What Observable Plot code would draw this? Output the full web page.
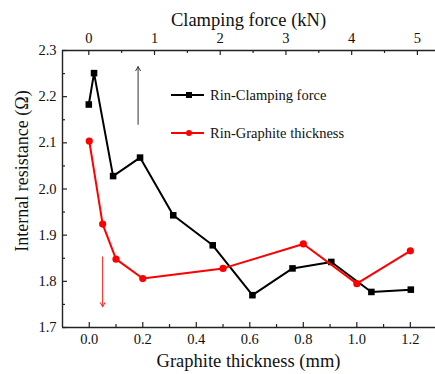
<!DOCTYPE html>
<html><head><meta charset="utf-8">
<script src="https://cdn.jsdelivr.net/npm/d3@7"></script>
<script src="https://cdn.jsdelivr.net/npm/@observablehq/plot@0.6"></script>
<style>
body{margin:0;background:#fff;overflow:hidden}
#wrap{position:relative;width:435px;height:374px;font-family:"Liberation Serif",serif}
#legend{position:absolute;left:0;top:0;pointer-events:none}
</style></head><body><div id="wrap"></div>
<script>
// Clamping force series (top axis, kN)
const clampForce = [0, 0.08, 0.37, 0.78, 1.285, 1.886, 2.49, 3.10, 3.69, 4.30, 4.90];
const rinClamp   = [2.183, 2.251, 2.028, 2.068, 1.943, 1.878, 1.770, 1.828, 1.842, 1.777, 1.782];
// Graphite thickness series (bottom axis, mm)
const graphiteThickness = [0, 0.05, 0.1, 0.2, 0.5, 0.8, 1.0, 1.2];
const rinGraphite       = [2.104, 1.924, 1.848, 1.806, 1.828, 1.881, 1.795, 1.866];
// Tick values
const yTicks = [1.7, 1.8, 1.9, 2.0, 2.1, 2.2, 2.3];
const yMinor = [1.75, 1.85, 1.95, 2.05, 2.15, 2.25];
const xTicks = [0, 0.2, 0.4, 0.6, 0.8, 1.0, 1.2];
const xMinor = [0.1, 0.3, 0.5, 0.7, 0.9, 1.1];
const topTicks = [0, 1, 2, 3, 4, 5];
const topMinor = [0.5, 1.5, 2.5, 3.5, 4.5];
// Annotation arrows
const upArrow = [{force: 0.75, from: 2.14, to: 2.265}];
const downArrow = [{thickness: 0.05, from: 1.853, to: 1.745}];
const legendItems = ["Rin-Clamping force", "Rin-Graphite thickness"];
const titles = {bottom: "Graphite thickness (mm)", top: "Clamping force (kN)", left: "Internal resistance (\u03A9)"};

// Axis ranges: bottom -0.1..1.3 mm shares the frame with top -0.4..5.3 kN
const xDomain = [-0.1, 1.294];
const kN2mm = d3.scaleLinear().domain([-0.4, 5.3]).range([-0.1, 1.3]);

const W = 435, H = 374, mL = 62, mR = 0, mT = 50, mB = 47;
const fw = W - mL - mR, fh = H - mT - mB;

const black = clampForce.map((f, i) => ({x: kN2mm(f), y: rinClamp[i]}));
const red = graphiteThickness.map((t, i) => ({x: t, y: rinGraphite[i]}));
const axisCol = "#222";

const chart = Plot.plot({
  width: W, height: H,
  marginLeft: mL, marginRight: mR, marginTop: mT, marginBottom: mB,
  style: {fontFamily: "Liberation Serif, serif", fontSize: "14.5px", color: "#111", background: "#fff"},
  x: {domain: xDomain, axis: null},
  y: {domain: [1.7, 2.3], axis: null},
  marks: [
    // axis lines
    Plot.ruleX([xDomain[0]], {stroke: axisCol, strokeWidth: 1.4}),
    Plot.ruleY([1.7], {stroke: axisCol, strokeWidth: 1.4}),
    Plot.ruleY([2.3], {stroke: axisCol, strokeWidth: 1.4}),
    // inward ticks
    Plot.ruleX(xTicks, {insetTop: fh - 5, stroke: axisCol, strokeWidth: 1.2}),
    Plot.ruleX(xMinor, {insetTop: fh - 3, stroke: axisCol, strokeWidth: 1.2}),
    Plot.ruleX(topTicks.map(kN2mm), {insetBottom: fh - 5, stroke: axisCol, strokeWidth: 1.2}),
    Plot.ruleX(topMinor.map(kN2mm), {insetBottom: fh - 3, stroke: axisCol, strokeWidth: 1.2}),
    Plot.ruleY(yTicks, {insetRight: fw - 5, stroke: axisCol, strokeWidth: 1.2}),
    Plot.ruleY(yMinor, {insetRight: fw - 3, stroke: axisCol, strokeWidth: 1.2}),
    // tick labels
    Plot.axisX({anchor: "bottom", ticks: xTicks, tickSize: 0, tickPadding: 6, tickFormat: ".1f", label: null}),
    Plot.axisX({anchor: "top", ticks: topTicks.map(kN2mm), tickSize: 0, tickPadding: 8,
      tickFormat: d => String(Math.round(kN2mm.invert(d))), label: null}),
    Plot.axisY({anchor: "left", ticks: yTicks, tickSize: 0, tickPadding: 6, tickFormat: ".1f", label: null}),
    // arrows
    Plot.arrow(upArrow, {x: d => kN2mm(d.force), y1: "from", y2: "to", stroke: "#333", strokeWidth: 1, headLength: 7}),
    Plot.arrow(downArrow, {x: "thickness", y1: "from", y2: "to", stroke: "#ff2020", strokeWidth: 1, headLength: 7}),
    // series
    Plot.line(black, {x: "x", y: "y", stroke: "#000", strokeWidth: 2}),
    Plot.dot(black, {x: "x", y: "y", symbol: "square", r: 3.7, fill: "#000"}),
    Plot.line(red, {x: "x", y: "y", stroke: "#ff0000", strokeWidth: 2}),
    Plot.dot(red, {x: "x", y: "y", r: 3.6, fill: "#ff0000"})
  ]
});
const wrap = document.getElementById("wrap");
wrap.appendChild(chart);

// overlay: axis titles and legend
const ns = "http://www.w3.org/2000/svg";
const lg = document.createElementNS(ns, "svg");
lg.setAttribute("id", "legend");
lg.setAttribute("width", W); lg.setAttribute("height", H);
function addText(str, x, y, size, rot) {
  const tx = document.createElementNS(ns, "text");
  tx.setAttribute("x", 0); tx.setAttribute("y", 0);
  tx.setAttribute("transform", `translate(${x},${y})` + (rot ? ` rotate(${rot})` : ""));
  tx.setAttribute("text-anchor", "middle");
  tx.setAttribute("dominant-baseline", "central");
  tx.setAttribute("font-family", "Liberation Serif, serif");
  tx.setAttribute("font-size", size + "px"); tx.setAttribute("fill", "#111");
  tx.textContent = str;
  lg.appendChild(tx);
}
const cx = mL + fw / 2;
addText(titles.top, cx, 20, 18.5);
addText(titles.bottom, cx, 361, 18.5);
addText(titles.left, 22, 171, 18, -90);

const rows = [{c: "#000", sym: "square", y: 95}, {c: "#ff0000", sym: "circle", y: 133}];
legendItems.forEach((t, i) => {
  const r = rows[i];
  const ln = document.createElementNS(ns, "line");
  ln.setAttribute("x1", 171); ln.setAttribute("x2", 204);
  ln.setAttribute("y1", r.y); ln.setAttribute("y2", r.y);
  ln.setAttribute("stroke", r.c); ln.setAttribute("stroke-width", 2);
  lg.appendChild(ln);
  if (r.sym === "square") {
    const s = document.createElementNS(ns, "rect");
    s.setAttribute("x", 186); s.setAttribute("y", r.y - 3); s.setAttribute("width", 6); s.setAttribute("height", 6);
    s.setAttribute("fill", r.c); lg.appendChild(s);
  } else {
    const c = document.createElementNS(ns, "circle");
    c.setAttribute("cx", 189); c.setAttribute("cy", r.y); c.setAttribute("r", 3);
    c.setAttribute("fill", r.c); lg.appendChild(c);
  }
  const tx = document.createElementNS(ns, "text");
  tx.setAttribute("x", 210); tx.setAttribute("y", r.y + 5);
  tx.setAttribute("font-family", "Liberation Serif, serif");
  tx.setAttribute("font-size", "14.5px"); tx.setAttribute("fill", "#111");
  tx.textContent = t;
  lg.appendChild(tx);
});
wrap.appendChild(lg);
</script></body></html>
